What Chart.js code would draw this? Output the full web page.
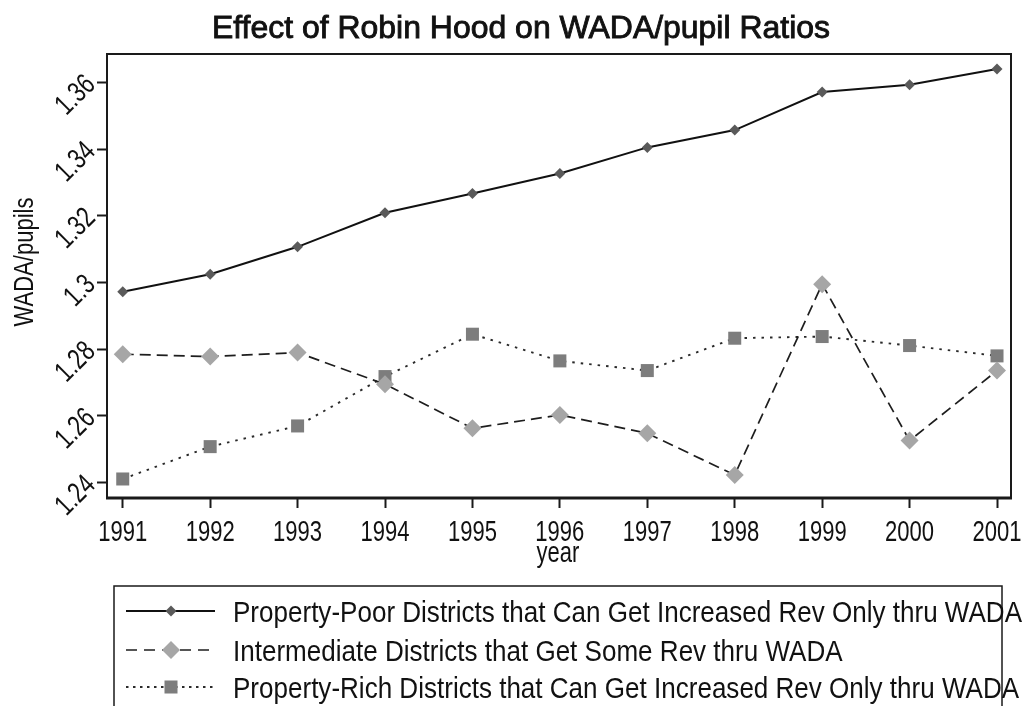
<!DOCTYPE html>
<html>
<head>
<meta charset="utf-8">
<title>Effect of Robin Hood on WADA/pupil Ratios</title>
<script src="https://cdn.jsdelivr.net/npm/chart.js@4.4.1/dist/chart.umd.min.js"></script>
<style>
  html, body { margin:0; padding:0; background:#fff; }
  #wrap { width:1029px; height:706px; }
</style>
</head>
<body>
<div id="wrap"><canvas id="wadaChart" width="1029" height="706"></canvas></div>
<script>
/* data */
const years = [1991,1992,1993,1994,1995,1996,1997,1998,1999,2000,2001];
const poorVals = [1.2972,1.3025,1.3107,1.3209,1.3267,1.3327,1.3405,1.3457,1.3571,1.3593,1.3640];
const midVals  = [1.2785,1.2778,1.2790,1.2695,1.2563,1.2603,1.2548,1.2423,1.2995,1.2526,1.2736];
const richVals = [1.2411,1.2508,1.2570,1.2718,1.2845,1.2765,1.2736,1.2833,1.2838,1.2811,1.2780];
const yTickValues = [1.24,1.26,1.28,1.30,1.32,1.34,1.36];
const yTickLabels = ['1.24','1.26','1.28','1.3','1.32','1.34','1.36'];
const seriesNames = [
  'Property-Poor Districts that Can Get Increased Rev Only thru WADA',
  'Intermediate Districts that Get Some Rev thru WADA',
  'Property-Rich Districts that Can Get Increased Rev Only thru WADA'
];
const chartTitle = 'Effect of Robin Hood on WADA/pupil Ratios';
const xTitle = 'year';
const yTitle = 'WADA/pupils';

const FONT = '"Liberation Sans", Arial, sans-serif';
const INK = '#111';

function pts(vals){
  return years.map((yr,i)=>({x:yr, y:vals[i]}));
}

/* condensed text: the original uses tall narrow lettering */
function fitScale(ctx, str, size, width){
  ctx.font = size + 'px ' + FONT;
  return width / ctx.measureText(str).width;
}
function drawText(ctx, str, x, y, size, sx, align, base, rot, heavy){
  ctx.save();
  ctx.translate(x, y);
  if(rot) ctx.rotate(rot);
  ctx.scale(sx, 1);
  ctx.font = size + 'px ' + FONT;
  ctx.fillStyle = INK;
  ctx.textAlign = align || 'center';
  ctx.textBaseline = base || 'alphabetic';
  ctx.fillText(str, 0, 0);
  if(heavy){
    ctx.strokeStyle = INK;
    ctx.lineWidth = heavy;
    ctx.strokeText(str, 0, 0);
  }
  ctx.restore();
}

/* frame round the plot area */
const framePlugin = {
  id:'frame',
  afterDraw(chart){
    const {ctx, chartArea:a} = chart;
    ctx.save();
    ctx.strokeStyle = '#1a1a1a';
    ctx.lineWidth = 2;
    ctx.strokeRect(a.left, a.top, a.right - a.left, a.bottom - a.top);
    ctx.lineWidth = 3;
    ctx.beginPath();
    ctx.moveTo(a.left - 1, a.bottom);
    ctx.lineTo(a.right + 1, a.bottom);
    ctx.stroke();
    ctx.restore();
  }
};

/* titles and tick labels */
const textPlugin = {
  id:'texts',
  afterDraw(chart){
    const ctx = chart.ctx;
    const xs = chart.scales.x, ys = chart.scales.y;
    const a = chart.chartArea;

    const sxTitle = fitScale(ctx, chartTitle, 32, 618);
    drawText(ctx, chartTitle, 521, 38, 32, sxTitle, 'center', 'alphabetic', 0, 0.9);

    const sxTick = fitScale(ctx, '1991', 29, 49);
    xs.ticks.forEach((t,i)=>{
      drawText(ctx, String(years[i]), xs.getPixelForValue(t.value), 541, 29, sxTick);
    });
    ys.ticks.forEach((t,i)=>{
      drawText(ctx, yTickLabels[i], 91, ys.getPixelForValue(t.value) - 2, 29, sxTick,
               'right', 'middle', -Math.PI/4);
    });

    drawText(ctx, xTitle, (a.left + a.right)/2 - 1, 562, 29, sxTick);
    const sxY = fitScale(ctx, yTitle, 27, 129);
    drawText(ctx, yTitle, 33, 262, 27, sxY, 'center', 'alphabetic', -Math.PI/2);
  }
};

/* legend box below the plot */
const legendPlugin = {
  id:'boxLegend',
  afterDraw(chart){
    const ctx = chart.ctx;
    const rows = [611, 650, 687];
    ctx.save();
    ctx.strokeStyle = '#1a1a1a';
    ctx.lineWidth = 1.5;
    ctx.strokeRect(114, 586, 1002 - 114, 140);
    ctx.restore();

    const sxLeg = fitScale(ctx, seriesNames[0], 29, 789);
    chart.data.datasets.forEach((ds,i)=>{
      const y = rows[i];
      ctx.save();
      ctx.strokeStyle = ds.borderColor;
      ctx.lineWidth = ds.borderWidth;
      ctx.setLineDash(ds.legendDash || []);
      ctx.beginPath();
      ctx.moveTo(126, y);
      ctx.lineTo(215, y);
      ctx.stroke();
      ctx.setLineDash([]);
      ctx.fillStyle = ds.pointBackgroundColor;
      Chart.helpers.drawPoint(ctx, {pointStyle: ds.pointStyle, radius: ds.pointRadius, rotation:0, borderWidth:0}, 171, y);
      ctx.restore();
      drawText(ctx, ds.label, 233, y + 10.5, 29, sxLeg, 'left');
    });
  }
};

function renderWadaChart(){
  const el = document.getElementById('wadaChart');
  new Chart(el, {
    type:'line',
    data:{
      datasets:[
        {
          label: seriesNames[0],
          data: pts(poorVals),
          borderColor:'#111', borderWidth:2,
          pointStyle:'rectRot', pointRadius:5.5,
          pointBackgroundColor:'#5a5a5a', pointBorderWidth:0,
          legendDash:[]
        },
        {
          label: seriesNames[1],
          data: pts(midVals),
          borderColor:'#1e1e1e', borderWidth:1.7, borderDash:[11,6],
          pointStyle:'rectRot', pointRadius:9,
          pointBackgroundColor:'#a6a6a6', pointBorderWidth:0,
          legendDash:[11,7]
        },
        {
          label: seriesNames[2],
          data: pts(richVals),
          borderColor:'#2a2a2a', borderWidth:1.9, borderDash:[2.5,6],
          pointStyle:'rect', pointRadius:9.2,
          pointBackgroundColor:'#7d7d7d', pointBorderWidth:0,
          legendDash:[2.5,4.5]
        }
      ]
    },
    options:{
      responsive:false,
      animation:false,
      layout:{ padding:{ top:54, right:18, left:0, bottom:0 } },
      plugins:{ legend:{display:false}, title:{display:false}, tooltip:{enabled:false} },
      elements:{ line:{ tension:0, fill:false } },
      scales:{
        x:{
          type:'linear',
          min:1990.82, max:2001.16,
          afterBuildTicks: s => { s.ticks = years.map(v=>({value:v})); },
          afterFit: s => { s.height = 208; },
          ticks:{ display:false },
          border:{ display:false },
          grid:{ drawOnChartArea:false, drawTicks:true, tickLength:10, tickWidth:2, tickColor:'#1a1a1a' }
        },
        y:{
          type:'linear',
          min:1.2354, max:1.3685,
          afterBuildTicks: s => { s.ticks = yTickValues.map(v=>({value:v})); },
          afterFit: s => { s.width = 107; },
          ticks:{ display:false },
          border:{ display:false },
          grid:{ drawOnChartArea:false, drawTicks:true, tickLength:10, tickWidth:2, tickColor:'#1a1a1a' }
        }
      }
    },
    plugins:[framePlugin, textPlugin, legendPlugin]
  });
}

document.addEventListener('DOMContentLoaded', function(){
  if(typeof Chart !== 'undefined') renderWadaChart();
});
</script>
</body>
</html>
